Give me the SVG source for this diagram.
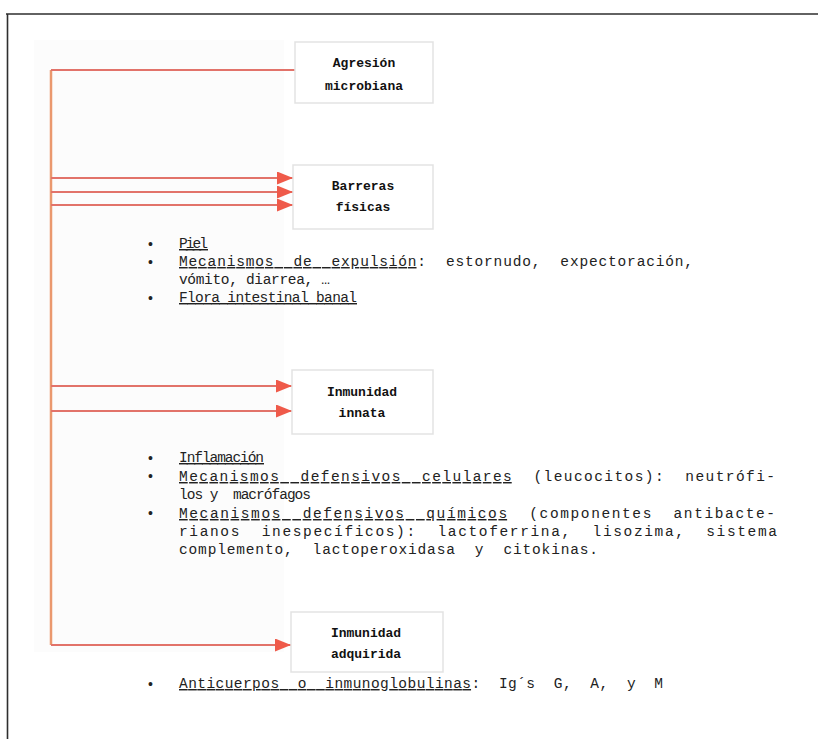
<svg xmlns="http://www.w3.org/2000/svg" width="818" height="739" viewBox="0 0 818 739">
<defs>
<style>
.frame{stroke:#2e2e2e;stroke-width:1.6;fill:none}
.box{fill:#ffffff;stroke:#e3e3e3;stroke-width:1.5}
.lbl{font-family:"Liberation Mono","DejaVu Sans Mono",monospace;font-weight:bold;font-size:13px;fill:#111;text-anchor:middle}
.txt{font-family:"Liberation Mono","DejaVu Sans Mono",monospace;font-size:14.5px;fill:#222;white-space:pre}
.u{text-decoration:underline}
.bul{font-family:"Liberation Sans",Arial,sans-serif;font-size:14px;fill:#222}
.vert{stroke:#ea986e;stroke-width:2.5;fill:none}
.hor{stroke:#e2736a;stroke-width:2;fill:none}
</style>
<marker id="ah" viewBox="0 0 16 13" refX="16" refY="6.5" markerWidth="16" markerHeight="13" markerUnits="userSpaceOnUse" orient="auto">
<path d="M0,0 L16,6.5 L0,13 z" fill="#ef5a4a"/>
</marker>
</defs>
<rect x="0" y="0" width="818" height="739" fill="#ffffff"/>
<rect x="34" y="40" width="250" height="612" fill="#fcfcfc"/>
<g id="frame">
<line class="frame" x1="6" y1="14" x2="818" y2="14"/>
<line class="frame" x1="7.5" y1="14" x2="7.5" y2="739"/>
</g>
<g id="connectors">
<line class="vert" x1="51" y1="70" x2="51" y2="645"/>
<line class="hor" x1="51" y1="70" x2="295" y2="70"/>
<line class="hor" x1="51" y1="178" x2="293" y2="178" marker-end="url(#ah)"/>
<line class="hor" x1="51" y1="192" x2="293" y2="192" marker-end="url(#ah)"/>
<line class="hor" x1="51" y1="205" x2="293" y2="205" marker-end="url(#ah)"/>
<line class="hor" x1="51" y1="386" x2="292" y2="386" marker-end="url(#ah)"/>
<line class="hor" x1="51" y1="411" x2="292" y2="411" marker-end="url(#ah)"/>
<line class="hor" x1="51" y1="645" x2="291" y2="645" marker-end="url(#ah)"/>
</g>
<g id="agresion">
<rect class="box" x="295" y="42" width="138" height="61"/>
<text class="lbl" x="364" y="67">Agresión</text>
<text class="lbl" x="364" y="90">microbiana</text>
</g>
<g id="barreras">
<rect class="box" x="293" y="165" width="140" height="64"/>
<text class="lbl" x="363" y="190">Barreras</text>
<text class="lbl" x="363" y="211">físicas</text>
</g>
<g id="innata">
<rect class="box" x="292" y="370" width="141" height="64"/>
<text class="lbl" x="362" y="396">Inmunidad</text>
<text class="lbl" x="362" y="417">innata</text>
</g>
<g id="adquirida">
<rect class="box" x="291" y="612" width="152" height="60"/>
<text class="lbl" x="366" y="637">Inmunidad</text>
<text class="lbl" x="366" y="658">adquirida</text>
</g>
<g id="barreras-list">
<text class="bul" x="148" y="249">•</text>
<text class="bul" x="148" y="267">•</text>
<text class="bul" x="148" y="303">•</text>
<text class="txt" x="179" y="248" textLength="29" lengthAdjust="spacing" xml:space="preserve"><tspan class="u">Piel</tspan></text>
<text class="txt" x="179" y="266" textLength="514" lengthAdjust="spacing" xml:space="preserve"><tspan class="u">Mecanismos  de  expulsión</tspan>:  estornudo,  expectoración,</text>
<text class="txt" x="179" y="284" textLength="151" lengthAdjust="spacing" xml:space="preserve">vómito, diarrea, …</text>
<text class="txt" x="179" y="302" textLength="178" lengthAdjust="spacing" xml:space="preserve"><tspan class="u">Flora intestinal banal</tspan></text>
</g>
<g id="innata-list">
<text class="bul" x="148" y="463">•</text>
<text class="bul" x="148" y="481">•</text>
<text class="bul" x="148" y="518">•</text>
<text class="txt" x="179" y="462" textLength="85" lengthAdjust="spacing" xml:space="preserve"><tspan class="u">Inflamación</tspan></text>
<text class="txt" x="179" y="481" textLength="596" lengthAdjust="spacing" xml:space="preserve"><tspan class="u">Mecanismos  defensivos  celulares</tspan>  (leucocitos):  neutrófi-</text>
<text class="txt" x="179" y="499" textLength="132" lengthAdjust="spacing" xml:space="preserve">los y  macrófagos</text>
<text class="txt" x="179" y="518" textLength="596" lengthAdjust="spacing" xml:space="preserve"><tspan class="u">Mecanismos  defensivos  químicos</tspan>  (componentes  antibacte-</text>
<text class="txt" x="179" y="536" textLength="598" lengthAdjust="spacing" xml:space="preserve">rianos  inespecíficos):  lactoferrina,  lisozima,  sistema</text>
<text class="txt" x="179" y="554" textLength="419" lengthAdjust="spacing" xml:space="preserve">complemento,  lactoperoxidasa  y  citokinas.</text>
</g>
<g id="adquirida-list">
<text class="bul" x="148" y="689">•</text>
<text class="txt" x="179" y="688" textLength="484" lengthAdjust="spacing" xml:space="preserve"><tspan class="u">Anticuerpos  o  inmunoglobulinas</tspan>:  Ig´s  G,  A,  y  M</text>
</g>
</svg>
